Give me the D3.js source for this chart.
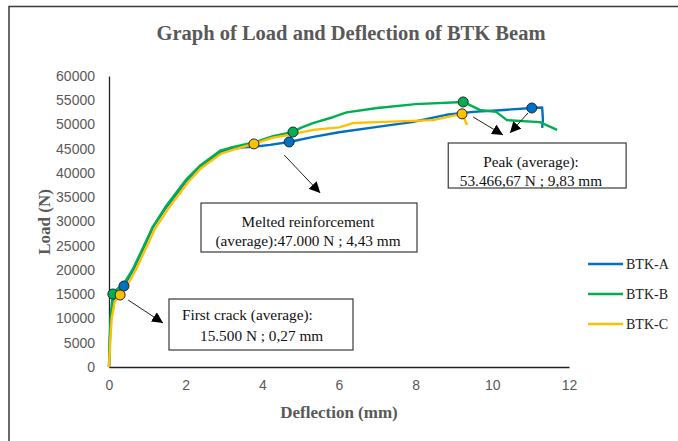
<!DOCTYPE html>
<html>
<head>
<meta charset="utf-8">
<script src="https://cdn.jsdelivr.net/npm/d3@7"></script>
<style>
  body { margin: 0; background: #fff; }
  .tick-label { font-family: "Liberation Sans", Arial, sans-serif; font-size: 14px; fill: #595959; }
  .chart-title { font-family: "Liberation Serif", "Times New Roman", serif; font-weight: bold; font-size: 20.5px; fill: #595959; }
  .axis-title { font-family: "Liberation Serif", "Times New Roman", serif; font-weight: bold; font-size: 17px; fill: #595959; }
  .note { font-family: "Liberation Serif", "Times New Roman", serif; font-size: 15.3px; fill: #111; }
  .legend-text { font-family: "Liberation Serif", "Times New Roman", serif; font-size: 14px; fill: #222; }
</style>
</head>
<body>
<div id="chart"></div>
<script>
// series: deflection (mm) / load (N)
const seriesNames = ["BTK-A", "BTK-B", "BTK-C"];
const seriesColors = ["#0070C0", "#00B050", "#FFC000"];

const btkA = [
  [0, 0], [0.02, 5000], [0.05, 10000], [0.1, 13500], [0.2, 15300], [0.39, 16700],
  [0.63, 20000], [0.9, 24500], [1.15, 28900], [1.5, 33000], [2.03, 38500], [2.37, 41200],
  [2.9, 44300], [3.16, 44900], [3.5, 45300], [3.78, 45400], [4.2, 45800], [4.7, 46400],
  [5.3, 47400], [6.0, 48400], [7.0, 49500], [7.9, 50500], [8.8, 52000], [9.5, 52600],
  [10.3, 53000], [11.03, 53400], [11.3, 53500], [11.32, 51000], [11.3, 49300]
];
const btkB = [
  [0, 0], [0.02, 6000], [0.05, 11000], [0.1, 15050], [0.2, 16000], [0.39, 17200],
  [0.63, 20300], [0.9, 24800], [1.15, 29000], [1.5, 33300], [2.03, 38800], [2.37, 41500],
  [2.9, 44600], [3.16, 45200], [3.78, 46300], [4.28, 47600], [4.8, 48450], [5.0, 49300],
  [5.32, 50300], [5.84, 51500], [6.2, 52500], [7.0, 53400], [8.0, 54200], [9.24, 54650],
  [9.67, 53000], [10.1, 52600], [10.38, 50900], [11.24, 50500], [11.69, 48900]
];
const btkC = [
  [0, 0], [0.03, 5000], [0.07, 10000], [0.15, 13500], [0.29, 14850], [0.45, 16500],
  [0.7, 20000], [0.95, 24300], [1.2, 28500], [1.55, 32700], [2.07, 38200], [2.4, 41000],
  [2.93, 44000], [3.2, 44700], [3.78, 46000], [4.28, 47300], [4.8, 48000], [5.32, 48900],
  [6.0, 49400], [6.37, 50300], [7.0, 50500], [8.45, 50900], [9.21, 52200], [9.34, 49900]
];
const seriesData = [btkA, btkB, btkC];

// highlighted points: first crack, melted reinforcement, peak
const markA = [[0.39, 16700], [4.7, 46400], [11.03, 53400]];
const markB = [[0.1, 15050], [4.8, 48450], [9.24, 54650]];
const markC = [[0.29, 14850], [3.78, 46000], [9.21, 52200]];
const seriesMarks = [markA, markB, markC];

const xTicks = [0, 2, 4, 6, 8, 10, 12];
const yTicks = d3.range(0, 60001, 5000);

const W = 678, H = 441;
const x = d3.scaleLinear().domain([0, 12]).range([109, 569]);
const y = d3.scaleLinear().domain([0, 60000]).range([367, 76]);

const svg = d3.select("#chart").append("svg")
  .attr("width", W).attr("height", H);

svg.append("defs").append("marker")
  .attr("id", "head")
  .attr("viewBox", "0 0 10 10")
  .attr("refX", 10).attr("refY", 5)
  .attr("markerWidth", 11).attr("markerHeight", 11)
  .attr("markerUnits", "userSpaceOnUse")
  .attr("orient", "auto")
  .append("path").attr("d", "M0,0 L10,5 L0,10 Z").attr("fill", "#000");

// outer frame (right and bottom edges run off the picture)
svg.append("rect")
  .attr("x", 9).attr("y", 6.5)
  .attr("width", W + 20).attr("height", H + 20)
  .attr("fill", "none").attr("stroke", "#3a3a3a").attr("stroke-width", 1.5);

svg.append("text").attr("class", "chart-title")
  .attr("x", 351).attr("y", 40).attr("text-anchor", "middle")
  .text("Graph of Load and Deflection of BTK Beam");

// axes
const xAxis = svg.append("g")
  .attr("transform", `translate(0,${y(0)})`)
  .call(d3.axisBottom(x).tickValues(xTicks).tickSize(0).tickPadding(13));
xAxis.select(".domain").attr("stroke", "#222").attr("stroke-width", 1.3);
xAxis.selectAll("text").attr("class", "tick-label").attr("fill", null).attr("font-size", null).attr("font-family", null);

const yAxis = svg.append("g")
  .attr("transform", `translate(${x(0)},0)`)
  .call(d3.axisLeft(y).tickValues(yTicks).tickSize(0).tickPadding(14).tickFormat(d3.format("d")));
yAxis.select(".domain").attr("stroke", "#222").attr("stroke-width", 1.3);
yAxis.selectAll("text").attr("class", "tick-label").attr("fill", null).attr("font-size", null).attr("font-family", null);

svg.append("text").attr("class", "axis-title")
  .attr("transform", "translate(50,222) rotate(-90)")
  .attr("text-anchor", "middle")
  .text("Load (N)");

svg.append("text").attr("class", "axis-title")
  .attr("x", 339).attr("y", 418).attr("text-anchor", "middle")
  .text("Deflection (mm)");

// curves
const line = d3.line().x(d => x(d[0])).y(d => y(d[1]));
svg.append("g").selectAll("path")
  .data(seriesData)
  .join("path")
  .attr("d", line)
  .attr("fill", "none")
  .attr("stroke", (d, i) => seriesColors[i])
  .attr("stroke-width", 2.4)
  .attr("stroke-linejoin", "round");

// markers
seriesMarks.forEach((pts, i) => {
  svg.append("g").selectAll("circle")
    .data(pts)
    .join("circle")
    .attr("cx", d => x(d[0]))
    .attr("cy", d => y(d[1]))
    .attr("r", 5)
    .attr("fill", seriesColors[i])
    .attr("stroke", "#1f2a3a")
    .attr("stroke-width", 1);
});

// annotation boxes, in data units: [x0, x1, yTop, yBottom]
const noteBoxes = [
  [1.565, 6.365, 14021, 3505],
  [2.40, 8.035, 33814, 23711],
  [8.85, 13.49, 46186, 36907]
];
svg.append("g").selectAll("rect")
  .data(noteBoxes)
  .join("rect")
  .attr("x", d => x(d[0]))
  .attr("y", d => y(d[2]))
  .attr("width", d => x(d[1]) - x(d[0]))
  .attr("height", d => y(d[3]) - y(d[2]))
  .attr("fill", "#fff")
  .attr("stroke", "#3a3a3a")
  .attr("stroke-width", 1.2);

const notes = svg.append("g").attr("class", "note");
notes.append("text").attr("x", 182).attr("y", 320).text("First crack (average):");
notes.append("text").attr("x", 200).attr("y", 341).text("15.500 N ; 0,27 mm");
notes.append("text").attr("x", 308).attr("y", 227).attr("text-anchor", "middle").text("Melted reinforcement");
notes.append("text").attr("x", 308).attr("y", 246).attr("text-anchor", "middle").text("(average):47.000 N ; 4,43 mm");
notes.append("text").attr("x", 531).attr("y", 167).attr("text-anchor", "middle").text("Peak (average):");
notes.append("text").attr("x", 531).attr("y", 186).attr("text-anchor", "middle").text("53.466,67 N ; 9,83 mm");

// arrows: [fromX, fromY, toX, toY] in data units
const arrows = [
  [0.50, 13814, 1.41, 9072],
  [4.57, 43711, 5.51, 35876],
  [9.50, 51546, 10.28, 47835],
  [10.93, 52371, 10.46, 48247]
];
svg.append("g").selectAll("line")
  .data(arrows)
  .join("line")
  .attr("x1", d => x(d[0])).attr("y1", d => y(d[1]))
  .attr("x2", d => x(d[2])).attr("y2", d => y(d[3]))
  .attr("stroke", "#222").attr("stroke-width", 1)
  .attr("marker-end", "url(#head)");

// legend
const legendY = [264, 294, 324];
const legend = svg.append("g").selectAll("g")
  .data(seriesNames)
  .join("g")
  .attr("transform", (d, i) => `translate(588,${legendY[i]})`);
legend.append("line")
  .attr("x1", 0).attr("x2", 35)
  .attr("stroke", (d, i) => seriesColors[i])
  .attr("stroke-width", 2.6);
legend.append("text").attr("class", "legend-text")
  .attr("x", 38).attr("dy", "0.35em")
  .text(d => d);
</script>
</body>
</html>
